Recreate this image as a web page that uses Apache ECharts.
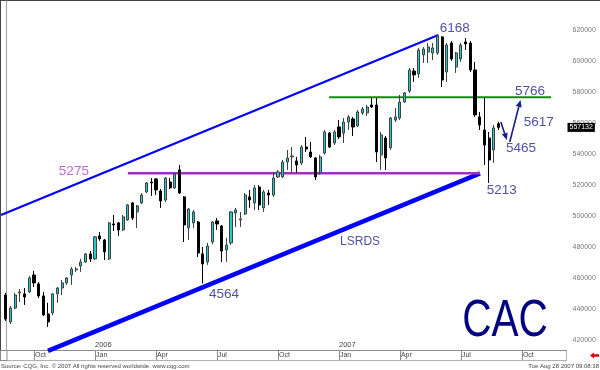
<!DOCTYPE html>
<html><head><meta charset="utf-8">
<script src="https://cdn.jsdelivr.net/npm/echarts@6/dist/echarts.min.js"></script>
<style>html,body{margin:0;padding:0;background:#fff}#c{width:600px;height:370px}</style>
</head><body><div id="c"></div>
<script>
// ---- data (CAC index, weekly candles, price units x100 as on the axis) ----
const startWeek = [2005, 7, 22];   // first weekly bar: 22 Aug 2005
const weekCount = 120;             // axis extends to late Nov 2007
const opens  = [449000,431600,440600,450300,449700,451000,461900,456100,448400,436800,437400,449700,453500,456800,461900,465200,467700,470300,475500,472300,487100,484500,472300,494800,495500,491000,497400,508400,502600,508400,515500,521900,523900,516100,510300,521900,518100,529700,512300,492300,495500,496100,475500,470300,483200,496800,493500,478100,482600,501900,497400,501300,512300,508400,518700,505200,514800,513500,525200,525200,534800,538100,535500,534200,544500,541300,537400,527700,540600,553500,547100,557400,553500,560600,562600,558100,566500,566500,571600,571600,539400,550300,543900,561900,563200,573500,580600,593500,591600,603900,605800,605200,605200,615500,592900,611600,596100,601300,612300,611600,594200,563900,555500,550300,542600,559500];
const closes = [433500,440600,449000,451000,447700,460000,456800,448400,436100,431600,449700,453500,456800,460000,465800,465800,470300,475500,472300,486500,485200,476800,495500,494200,491000,499400,507100,498700,506500,513500,521300,521300,516800,509700,524500,518100,527100,514800,494200,504500,502600,476100,469000,480600,496100,494800,477400,481300,502600,503900,498100,513500,510300,518100,507100,515500,513500,524500,528400,534800,537400,538700,532900,544500,543200,538100,525200,538100,554200,544500,554200,551000,560600,563900,557400,567100,569000,570300,570300,541300,552300,537400,563200,563900,573500,579400,594200,591000,607100,607700,609000,608400,616100,587700,610300,601300,605200,610300,611000,594200,565200,558700,545800,536100,556800,557132];
const lows   = [432300,430300,440000,444500,442600,450300,454200,447100,435500,428400,436000,443900,449000,455500,455500,463900,463900,469700,470300,471600,483900,471600,471600,490300,487100,490300,496800,497400,492300,507700,514800,512900,513500,505200,509000,517400,517400,514200,483200,484500,492300,473500,456400,468400,481700,491000,470300,470300,481300,492900,492900,500600,505200,503900,503900,502600,507100,512300,524500,524500,529700,527700,527700,532900,541300,537400,523200,526500,539400,543900,545800,549700,547100,555500,551600,557400,565200,564500,569700,534800,529700,529700,542600,560600,561900,572900,579400,586500,589000,598700,598700,600600,603900,583200,586500,600000,592300,599400,607100,592900,563900,555500,532900,521300,534200,555500];
const highs  = [450300,441900,450300,452900,453500,461300,464500,457400,451000,443900,450300,454200,458700,460600,467100,467100,472300,476100,477400,487100,489700,485200,496100,500600,496100,500600,507700,509000,507100,514800,521900,524500,524500,517400,525200,524500,527700,532900,512900,505200,503900,496800,480000,482600,496800,498700,494200,485800,503200,505200,502600,514800,516800,520000,520000,516800,516800,528400,529700,536100,542600,544500,538100,545800,551000,547700,538100,539400,555500,554200,555500,561900,563200,565200,563900,568400,570300,571600,576100,576100,554200,551600,563900,569700,578100,580000,595500,595500,608400,609000,611600,611600,616800,616000,611600,612900,605800,611600,614800,612900,599400,567100,576100,554200,558700,560800];
const lastPrice = 557132;
const yTicks = [420000,440000,460000,480000,500000,520000,540000,560000,580000,600000,620000];
const monthTicks = {'2005-10-03':'Oct','2006-01-02':'Jan','2006-04-03':'Apr','2006-07-03':'Jul','2006-10-02':'Oct','2007-01-01':'Jan','2007-04-02':'Apr','2007-07-02':'Jul','2007-10-01':'Oct'};
const yearTicks = {'2006-01-02':'2006','2007-01-01':'2007'};
// drawn lines: [week position, price, week position, price]
const channelUpper   = [-1.03, 500600, 92.2, 616800];
const channelLower   = [8.98, 412900, 101.06, 527500];
const support5275    = [26.0, 527500, 101.06, 527500];
const resistance5766 = [68.9, 576600, 116.2, 576600];
const arrowDown = [105.5, 560600, 106.8, 549000];
const arrowUp   = [107.4, 547700, 109.7, 574800];
const labelTexts = ['6168','5766','5617','5465','5213','5275','4564','LSRDS'];
const labelX     = [95.7, 111.7, 113.6, 109.8, 105.7, 14.5, 46.5, 75.5];
const labelY     = [621300, 580600, 560600, 543900, 516800, 529000, 449700, 483200];

// ---- build ----
const weeks = [];
const t0 = Date.UTC(startWeek[0], startWeek[1], startWeek[2]);
for (let i = 0; i < weekCount; i++) weeks.push(new Date(t0 + i * 7 * 864e5).toISOString().slice(0, 10));
const candles = opens.map((o, i) => [o, closes[i], lows[i], highs[i]]);

const lineStyles = [
  {color:'#0000ff', width:2.2},
  {color:'#0000ff', width:4.5},
  {color:'#a32fc2', width:2.5},
  {color:'#138a13', width:2}
];
const FONT = '"Liberation Sans", Arial, sans-serif';
const chart = echarts.init(document.getElementById('c'));
chart.setOption({
  animation: false,
  textStyle: {fontFamily: FONT},
  grid: {left: 3.5, right: 33.5, top: 1, bottom: 20},
  xAxis: [
    {type:'category', data:weeks, boundaryGap:true, position:'bottom',
     axisLine:{show:true, lineStyle:{color:'#8c8c8c', width:1}},
     axisTick:{show:true, alignWithLabel:true, interval:(i, v) => v in monthTicks, length:10, lineStyle:{color:'#8c8c8c'}},
     axisLabel:{show:true, interval:(i, v) => v in monthTicks, formatter:v => monthTicks[v] || '', align:'left', margin:2, fontSize:7, color:'#444', padding:[0,0,0,1]},
     splitLine:{show:false}},
    {type:'category', data:weeks, boundaryGap:true, position:'bottom',
     axisLine:{show:false}, axisTick:{show:false}, splitLine:{show:false},
     axisLabel:{show:true, inside:true, interval:(i, v) => v in yearTicks, formatter:v => yearTicks[v] || '', align:'left', margin:1, fontSize:7.5, color:'#444'}},
    {type:'value', min:-0.5, max:weekCount - 0.5, show:false}
  ],
  yAxis: {type:'value', position:'right', min:413500, max:638700,
    axisLine:{show:true, lineStyle:{color:'#a0a0a0'}}, axisTick:{show:false}, splitLine:{show:false},
    axisLabel:{customValues:yTicks, formatter:v => String(v), fontSize:7, color:'#777', margin:6}},
  series: [
    {type:'candlestick', xAxisIndex:0, data:candles, barWidth:2.6,
     itemStyle:{color:'#1fcccc', color0:'#000000', borderColor:'#404040', borderColor0:'#000000', borderWidth:1},
     markLine:{silent:true, symbol:['none','none'], lineStyle:{color:'rgba(0,0,0,0)', width:0, type:'solid'},
       label:{show:true, position:'end', formatter:String(lastPrice), backgroundColor:'#000', color:'#fff', fontSize:7, padding:[1,2,1,2], distance:1},
       data:[{yAxis:lastPrice}]}},
    {type:'custom', xAxisIndex:2, yAxisIndex:0, clip:false, silent:true,
     data:[channelUpper, channelLower, support5275, resistance5766],
     encode:{x:[0,2], y:[1,3]},
     renderItem:(params, api) => {
       const a = api.coord([api.value(0), api.value(1)]);
       const b = api.coord([api.value(2), api.value(3)]);
       const s = lineStyles[params.dataIndex];
       return {type:'line', shape:{x1:a[0], y1:a[1], x2:b[0], y2:b[1]}, style:{stroke:s.color, lineWidth:s.width}};
     }},
    {type:'custom', xAxisIndex:2, yAxisIndex:0, clip:false, silent:true,
     data:[arrowDown, arrowUp],
     encode:{x:[0,2], y:[1,3]},
     renderItem:(params, api) => {
       const a = api.coord([api.value(0), api.value(1)]);
       const b = api.coord([api.value(2), api.value(3)]);
       const ang = Math.atan2(b[1] - a[1], b[0] - a[0]);
       const L = 7, W = 3;
       const bx = b[0] - L * Math.cos(ang), by = b[1] - L * Math.sin(ang);
       const px = -Math.sin(ang) * W, py = Math.cos(ang) * W;
       return {type:'group', children:[
         {type:'line', shape:{x1:a[0], y1:a[1], x2:bx, y2:by}, style:{stroke:'#1c1c8c', lineWidth:1.6}},
         {type:'polygon', shape:{points:[[b[0], b[1]], [bx + px, by + py], [bx - px, by - py]]}, style:{fill:'#1c1c8c'}}
       ]};
     }},
    {type:'scatter', xAxisIndex:2, yAxisIndex:0, silent:true, symbolSize:1, itemStyle:{color:'transparent'},
     data: labelTexts.map((t, i) => ({name:t, value:[labelX[i], labelY[i]],
       label:{color: t === '5275' ? '#b23fc4' : '#24248a', fontSize: t === 'LSRDS' ? 12 : 13.5}})),
     label:{show:true, position:'inside', formatter:p => p.name}}
  ],
  graphic: [
    {type:'line', shape:{x1:0, y1:0.5, x2:600, y2:0.5}, style:{stroke:'#444', lineWidth:1}},
    {type:'line', shape:{x1:0.5, y1:0, x2:0.5, y2:360}, style:{stroke:'#444', lineWidth:1}},
    {type:'line', shape:{x1:0, y1:360.5, x2:567, y2:360.5}, style:{stroke:'#b0b0b0', lineWidth:1}},
    {type:'line', shape:{x1:566.5, y1:350, x2:566.5, y2:360.5}, style:{stroke:'#b0b0b0', lineWidth:1}},
    {type:'rect', shape:{x:0.5, y:350.5, width:6.5, height:10}, style:{fill:'none', stroke:'#8c8c8c', lineWidth:1}},
    {type:'text', x:505, y:322, scaleX:0.78, style:{text:'CAC', fill:'#000080', fontSize:52, fontFamily:FONT, align:'center', verticalAlign:'middle'}},
    {type:'text', x:1, y:366, style:{text:'Source: CQG, Inc. \u00a9 2007 All rights reserved worldwide. www.cqg.com', fill:'#444', fontSize:6, fontFamily:FONT, verticalAlign:'middle'}},
    {type:'text', x:599, y:366, style:{text:'Tue Aug 28 2007 09:08:38', fill:'#444', fontSize:6, fontFamily:FONT, align:'right', verticalAlign:'middle'}},
    {type:'polygon', shape:{points:[[590,355.5],[594,352.5],[594,354.3],[599,354.3],[599,356.7],[594,356.7],[594,358.5]]}, style:{fill:'#e00000'}}
  ]
});
</script></body></html>
